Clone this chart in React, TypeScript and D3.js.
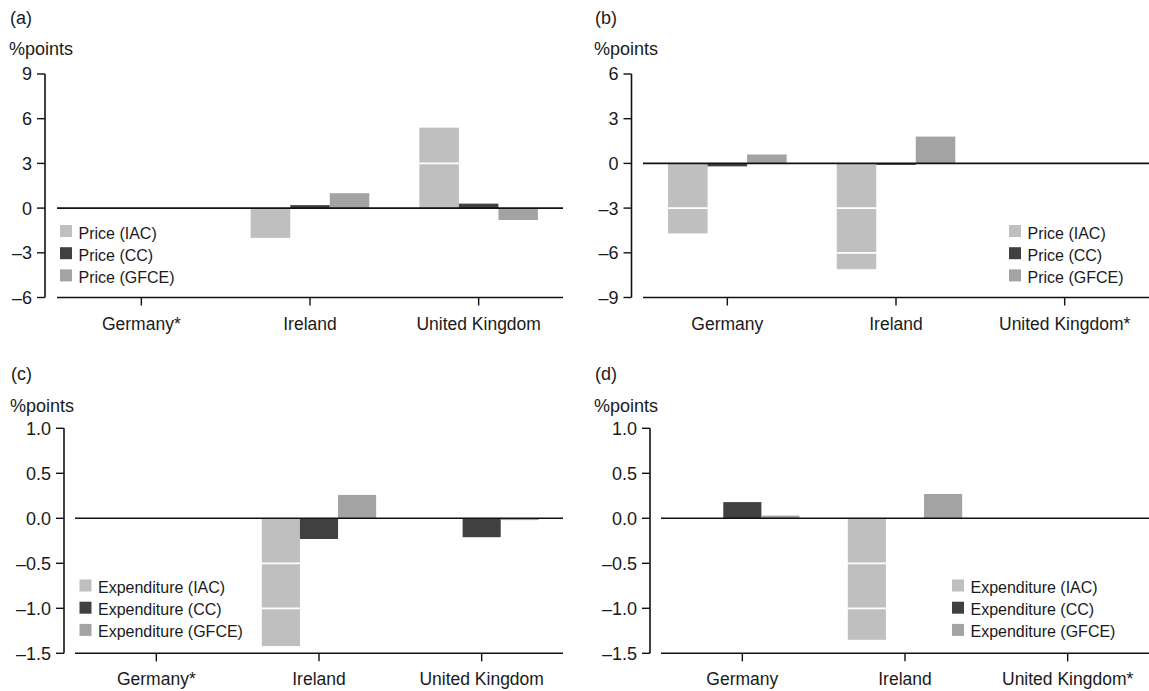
import React from "react";
import * as d3 from "d3";

// Series shared by all four panels
const seriesKeys = ["IAC", "CC", "GFCE"];
const seriesColors = ["#bfbfbf", "#404040", "#a3a3a3"];

// Category labels (asterisk marks a country without data)
const categoriesA = ["Germany*", "Ireland", "United Kingdom"];
const categoriesB = ["Germany", "Ireland", "United Kingdom*"];

// Tick values
const ticksA = [-6, -3, 0, 3, 6, 9];
const ticksB = [-9, -6, -3, 0, 3, 6];
const ticksExp = [-1.5, -1.0, -0.5, 0.0, 0.5, 1.0];

// (a) price contributions
const aIAC = [null, -2.0, 5.4];
const aCC = [null, 0.2, 0.3];
const aGFCE = [null, 1.0, -0.8];

// (b) price contributions
const bIAC = [-4.7, -7.1, null];
const bCC = [-0.2, -0.1, null];
const bGFCE = [0.6, 1.8, null];

// (c) expenditure contributions
const cIAC = [null, -1.42, 0];
const cCC = [null, -0.23, -0.21];
const cGFCE = [null, 0.26, -0.02];

// (d) expenditure contributions
const dIAC = [0, -1.35, null];
const dCC = [0.18, 0, null];
const dGFCE = [0.03, 0.27, null];

const FONT = "'Liberation Sans', Arial, Helvetica, sans-serif";

type PanelProps = {
  tag: string;
  categories: string[];
  values: (number | null)[][];
  ticks: number[];
  decimals: number;
  legendPrefix: string;
  axisX: number;
  xRange: [number, number];
  yRange: [number, number];
  tagY: number;
  unitY: number;
  tagX: number;
  legendX: number;
  legendY: number;
};

const fmt = (v: number, decimals: number) => {
  const s = Math.abs(v).toFixed(decimals);
  return v < 0 ? "\u2013" + s : s;
};

function Panel(p: PanelProps) {
  const x0 = d3.scaleBand<string>().domain(p.categories).range(p.xRange).padding(0);
  const x1 = d3
    .scaleBand<string>()
    .domain(seriesKeys)
    .range([0, x0.bandwidth()])
    .paddingInner(0)
    .paddingOuter(0.634);
  const y = d3
    .scaleLinear()
    .domain([p.ticks[0], p.ticks[p.ticks.length - 1]])
    .range(p.yRange);

  const [xs, xe] = p.xRange;
  const yTop = y(p.ticks[p.ticks.length - 1]);
  const yBot = y(p.ticks[0]);
  const y0 = y(0);

  return (
    <g fontFamily={FONT} fill="#1a1a1a">
      <text x={p.tagX} y={p.tagY} fontSize={18}>
        ({p.tag})
      </text>
      <text x={p.tagX - 1} y={p.unitY} fontSize={18}>
        %points
      </text>

      {/* bars */}
      {p.categories.map((c, ci) =>
        seriesKeys.map((k, si) => {
          const v = p.values[si][ci];
          if (v === null || v === 0) return null;
          const top = y(Math.max(0, v));
          const bottom = y(Math.min(0, v));
          return (
            <rect
              key={c + k}
              x={(x0(c) as number) + (x1(k) as number)}
              y={top}
              width={x1.bandwidth()}
              height={bottom - top}
              fill={seriesColors[si]}
            />
          );
        })
      )}

      {/* white reference lines at tick values, visible across the bars */}
      {p.ticks
        .filter((t) => t !== 0 && t !== p.ticks[0] && t !== p.ticks[p.ticks.length - 1])
        .map((t) => (
          <line key={t} x1={xs} x2={xe} y1={y(t)} y2={y(t)} stroke="#ffffff" strokeWidth={1.8} />
        ))}

      {/* zero line */}
      <line x1={xs} x2={xe} y1={y0} y2={y0} stroke="#111" strokeWidth={1.6} />

      {/* y axis */}
      <line x1={p.axisX} x2={p.axisX} y1={yTop} y2={yBot} stroke="#111" strokeWidth={1.6} />
      {p.ticks.map((t) => (
        <g key={"t" + t}>
          <line x1={p.axisX - 8} x2={p.axisX} y1={y(t)} y2={y(t)} stroke="#111" strokeWidth={1.4} />
          <text
            x={p.axisX - 13}
            y={y(t)}
            dy="0.36em"
            textAnchor="end"
            fontSize={18}
          >
            {fmt(t, p.decimals)}
          </text>
        </g>
      ))}

      {/* x axis */}
      <line x1={xs} x2={xe} y1={yBot} y2={yBot} stroke="#111" strokeWidth={1.6} />
      {p.categories.map((c) => {
        const cx = (x0(c) as number) + x0.bandwidth() / 2;
        return (
          <g key={"c" + c}>
            <line x1={cx} x2={cx} y1={yBot} y2={yBot + 8} stroke="#111" strokeWidth={1.4} />
            <text x={cx} y={yBot + 32} textAnchor="middle" fontSize={17.5}>
              {c}
            </text>
          </g>
        );
      })}

      {/* legend */}
      {seriesKeys.map((k, i) => (
        <g key={"l" + k} transform={`translate(${p.legendX},${p.legendY + i * 22.2})`}>
          <rect x={0} y={0} width={12} height={12} fill={seriesColors[i]} />
          <text x={18.5} y={13.5} fontSize={16}>
            {`${p.legendPrefix} (${k})`}
          </text>
        </g>
      ))}
    </g>
  );
}

export default function App() {
  return (
    <svg
      width={1149}
      height={691}
      style={{ position: "absolute", left: 0, top: 0, background: "#fff" }}
    >
      <rect width={1149} height={691} fill="#fff" />
      <Panel
        tag="a"
        categories={categoriesA}
        values={[aIAC, aCC, aGFCE]}
        ticks={ticksA}
        decimals={0}
        legendPrefix="Price"
        axisX={45}
        xRange={[57, 563]}
        yRange={[297.5, 74]}
        tagX={10}
        tagY={24}
        unitY={55}
        legendX={60}
        legendY={225}
      />
      <Panel
        tag="b"
        categories={categoriesB}
        values={[bIAC, bCC, bGFCE]}
        ticks={ticksB}
        decimals={0}
        legendPrefix="Price"
        axisX={631.5}
        xRange={[643, 1149]}
        yRange={[297.5, 74]}
        tagX={595}
        tagY={24}
        unitY={55}
        legendX={1009}
        legendY={225}
      />
      <Panel
        tag="c"
        categories={categoriesA}
        values={[cIAC, cCC, cGFCE]}
        ticks={ticksExp}
        decimals={1}
        legendPrefix="Expenditure"
        axisX={64}
        xRange={[75, 563]}
        yRange={[653.3, 428.3]}
        tagX={11}
        tagY={379.5}
        unitY={411.5}
        legendX={79.5}
        legendY={579.5}
      />
      <Panel
        tag="d"
        categories={categoriesB}
        values={[dIAC, dCC, dGFCE]}
        ticks={ticksExp}
        decimals={1}
        legendPrefix="Expenditure"
        axisX={650}
        xRange={[661, 1149]}
        yRange={[653.3, 428.3]}
        tagX={595}
        tagY={379.5}
        unitY={411.5}
        legendX={952}
        legendY={579.5}
      />
    </svg>
  );
}
